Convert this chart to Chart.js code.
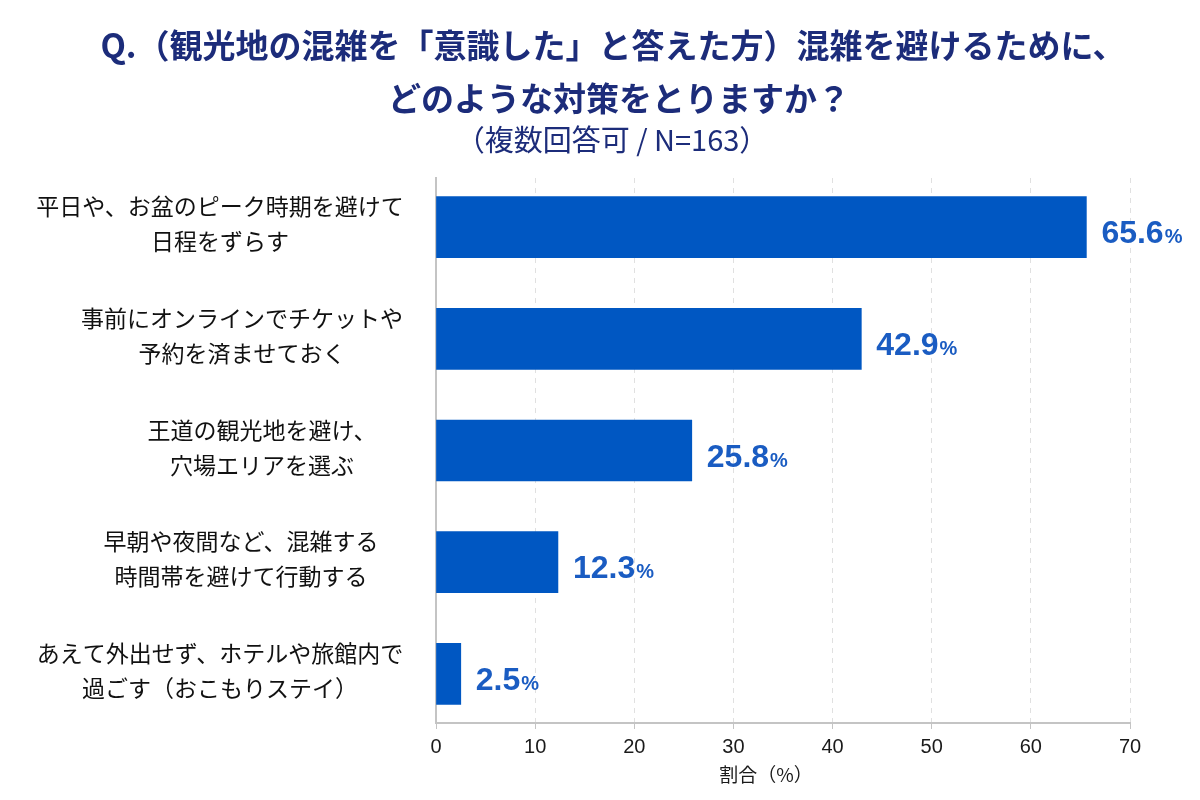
<!DOCTYPE html>
<html lang="ja">
<head>
    <meta charset="UTF-8">
    <title>混雑を避けるための対策</title>
    <style>
        html, body { margin: 0; padding: 0; background: #ffffff; }
        #wrap { width: 1200px; height: 800px; }
    </style>
</head>
<body>
    <div id="wrap">
        <canvas id="myChart" width="1200" height="800"></canvas>
    </div>

    <script src="https://cdnjs.cloudflare.com/ajax/libs/Chart.js/4.4.0/chart.umd.min.js"></script>
    <script>
        // data
        var categories = [
            ['平日や、お盆のピーク時期を避けて', '日程をずらす'],
            ['事前にオンラインでチケットや', '予約を済ませておく'],
            ['王道の観光地を避け、', '穴場エリアを選ぶ'],
            ['早朝や夜間など、混雑する', '時間帯を避けて行動する'],
            ['あえて外出せず、ホテルや旅館内で', '過ごす（おこもりステイ）']
        ];
        var shares = [65.6, 42.9, 25.8, 12.3, 2.5];
        var xTicks = [0, 10, 20, 30, 40, 50, 60, 70];

        var titleLines = ['Q.（観光地の混雑を「意識した」と答えた方）混雑を避けるために、', 'どのような対策をとりますか？'];
        var subTitle = '（複数回答可 / N=163）';
        var axisTitle = '割合（%）';

        // style only: how far each label block sits right of the common centre
        var labelIndent = [0, 22, 42, 21, 0];

        var jp = '"Noto Sans CJK JP", "Noto Sans", sans-serif';
        var navy = '#1c2c7a';
        var blue = '#0057c2';
        var labelBlue = '#1a5cc2';

        // heading and axis title (space kept free by layout padding)
        var heading = {
            id: 'heading',
            afterDraw: function (chart) {
                var ctx = chart.ctx;
                var cx = 613;
                ctx.save();
                ctx.fillStyle = navy;
                ctx.textAlign = 'center';
                ctx.textBaseline = 'middle';
                ctx.font = 'bold 33px ' + jp;
                ctx.fillText(titleLines[0], cx, 45);
                ctx.fillText(titleLines[1], cx + 6, 98);
                ctx.font = '29px ' + jp;
                ctx.fillText(subTitle, cx - 1, 140);

                ctx.fillStyle = '#1a1a1a';
                ctx.font = '19px ' + jp;
                ctx.fillText(axisTitle, 766, 775);
                ctx.restore();
            }
        };

        // category labels, lines centred in each block
        var catLabels = {
            id: 'catLabels',
            afterDraw: function (chart) {
                var ctx = chart.ctx;
                var y = chart.scales.y;
                var centre = 220;
                ctx.save();
                ctx.font = '23px ' + jp;
                ctx.fillStyle = '#111111';
                ctx.textAlign = 'center';
                ctx.textBaseline = 'middle';
                categories.forEach(function (lines, i) {
                    var cx = centre + labelIndent[i];
                    var cy = y.getPixelForValue(i);
                    var lh = 35;
                    var top = cy - (lines.length - 1) * lh / 2 - 3;
                    lines.forEach(function (l, k) {
                        ctx.fillText(l, cx, top + k * lh);
                    });
                });
                ctx.restore();
            }
        };

        // value labels at the end of each bar
        var valueLabels = {
            id: 'valueLabels',
            afterDatasetsDraw: function (chart) {
                var ctx = chart.ctx;
                var meta = chart.getDatasetMeta(0);
                ctx.save();
                ctx.fillStyle = labelBlue;
                ctx.textAlign = 'left';
                ctx.textBaseline = 'alphabetic';
                meta.data.forEach(function (bar, i) {
                    var txt = shares[i].toFixed(1);
                    var x = bar.x + 15;
                    var base = bar.y + 16;
                    ctx.font = 'bold 32px "Liberation Sans", Arial, sans-serif';
                    ctx.fillText(txt, x, base);
                    var w = ctx.measureText(txt).width;
                    ctx.font = 'bold 20px "Liberation Sans", Arial, sans-serif';
                    ctx.fillText('%', x + w + 1, base);
                });
                ctx.restore();
            }
        };

        var ctx = document.getElementById('myChart').getContext('2d');
        var chart = new Chart(ctx, {
            type: 'bar',
            data: {
                datasets: [{
                    data: shares.map(function (v, i) { return { x: v, y: i }; }),
                    backgroundColor: blue,
                    borderWidth: 0,
                    barThickness: 61
                }]
            },
            options: {
                indexAxis: 'y',
                responsive: false,
                animation: false,
                devicePixelRatio: 1,
                layout: { padding: { left: 0, right: 70, top: 178, bottom: 35 } },
                plugins: {
                    legend: { display: false },
                    tooltip: { enabled: false },
                    title: { display: false }
                },
                scales: {
                    x: {
                        type: 'linear',
                        min: 0,
                        max: 70,
                        afterBuildTicks: function (scale) {
                            scale.ticks = xTicks.map(function (v) { return { value: v }; });
                        },
                        grid: {
                            color: '#e0e0e0',
                            lineWidth: 1,
                            tickLength: 6,
                            tickColor: '#c4c4c4',
                            tickBorderDash: [0, 0]
                        },
                        border: { display: true, color: '#c4c4c4', width: 2, dash: [5, 5] },
                        ticks: {
                            color: '#1a1a1a',
                            padding: 6,
                            font: { family: '"Liberation Sans", Arial, sans-serif', size: 20 }
                        },
                        title: { display: false }
                    },
                    y: {
                        type: 'linear',
                        reverse: true,
                        min: -0.44,
                        max: categories.length - 0.56,
                        offset: false,
                        grid: { display: false },
                        border: { display: true, color: '#c4c4c4', width: 2 },
                        ticks: { display: false },
                        afterFit: function (scale) { scale.width = 436; }
                    }
                }
            },
            plugins: [heading, catLabels, valueLabels]
        });
    </script>
</body>
</html>
